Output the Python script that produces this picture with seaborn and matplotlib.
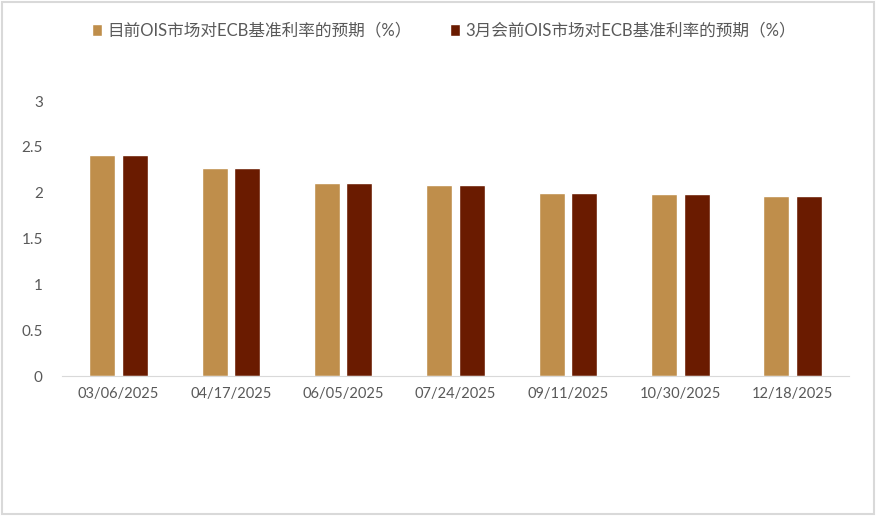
import matplotlib
matplotlib.use("Agg")
import matplotlib.pyplot as plt
import seaborn as sns
import pandas as pd

dates = ["03/06/2025", "04/17/2025", "06/05/2025", "07/24/2025",
         "09/11/2025", "10/30/2025", "12/18/2025"]
current = [2.41, 2.27, 2.11, 2.08, 2.00, 1.99, 1.96]
before_march = [2.41, 2.27, 2.11, 2.08, 2.00, 1.99, 1.96]
series_names = ["目前OIS市场对ECB基准利率的预期（%）", "3月会前OIS市场对ECB基准利率的预期（%）"]
colors = ["#BF8E4B", "#6A1B00"]

df = pd.DataFrame({
    "date": dates * 2,
    "value": current + before_march,
    "series": [series_names[0]] * len(dates) + [series_names[1]] * len(dates),
})

sns.set_style("white")
plt.rcParams["font.family"] = ["Lato", "Noto Sans CJK SC", "DejaVu Sans"]

fig = plt.figure(figsize=(8.76, 5.16), dpi=100)
ax = fig.add_axes([0.071, 0.271, 0.898, 0.533])

sns.barplot(data=df, x="date", y="value", hue="series", palette=colors,
            saturation=1, width=0.578, gap=0.2, ax=ax, legend=True)

ax.set_ylim(0, 3)
ax.set_yticks([0, 0.5, 1, 1.5, 2, 2.5, 3])
ax.set_yticklabels(["0", "0.5", "1", "1.5", "2", "2.5", "3"])
ax.set_xlabel("")
ax.set_ylabel("")
for s in ["top", "right", "left"]:
    ax.spines[s].set_visible(False)
ax.spines["bottom"].set_color("#d9d9d9")
ax.tick_params(axis="both", colors="#595959", length=0)
ax.tick_params(axis="x", pad=8, labelsize=10.5)
ax.tick_params(axis="y", pad=14, labelsize=11)

handles, labels = ax.get_legend_handles_labels()
ax.get_legend().remove()
fig.legend(handles, labels, loc="upper left", bbox_to_anchor=(0.088, 0.985),
           ncol=2, frameon=False, fontsize=12, handlelength=0.6,
           handleheight=0.8, handletextpad=0.3, columnspacing=2.3,
           labelcolor="#595959")

fig.patches.append(plt.Rectangle((0.002, 0.003), 0.996, 0.994, transform=fig.transFigure,
                                 fill=False, edgecolor="#d9d9d9", linewidth=1.5))

fig.savefig("out.png", dpi=100)
